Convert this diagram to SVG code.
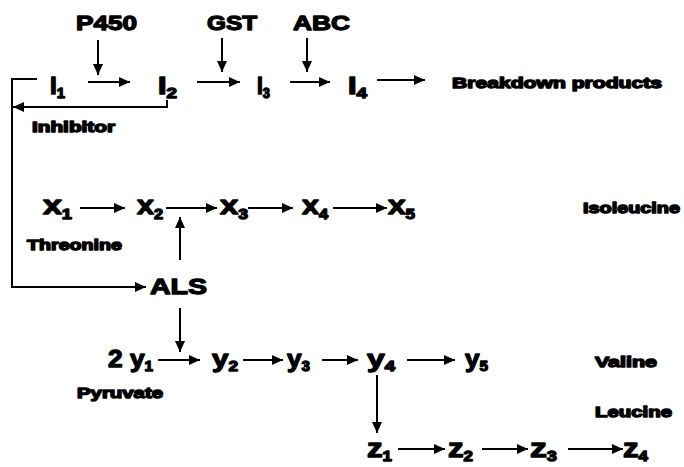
<svg xmlns="http://www.w3.org/2000/svg" width="684" height="467" viewBox="0 0 684 467">
<style>
text{font-family:"Liberation Sans",Arial,sans-serif;font-weight:bold;fill:#000;stroke:#000;stroke-width:1.3;stroke-linejoin:round;}
.big{font-size:26px;}
.mid{font-size:21px;}
.lab{font-size:15px;stroke-width:1.4;}
.sub{font-size:14px;}
.c{fill:none;stroke:#000;stroke-width:2;}
</style>
<defs>
<marker id="ah" markerUnits="userSpaceOnUse" markerWidth="12" markerHeight="10" refX="11" refY="5" orient="auto">
<path d="M0,0 L11,5 L0,10 Z" fill="#000"/>
</marker>
</defs>
<rect width="684" height="467" fill="#fff"/>
<g id="connectors">
<line class="c" x1="88" y1="82" x2="130" y2="82" marker-end="url(#ah)"/>
<line class="c" x1="197" y1="82" x2="240" y2="82" marker-end="url(#ah)"/>
<line class="c" x1="290" y1="82" x2="330" y2="82" marker-end="url(#ah)"/>
<line class="c" x1="377" y1="80" x2="425" y2="80" marker-end="url(#ah)"/>
<line class="c" x1="98" y1="40" x2="98" y2="75" marker-end="url(#ah)"/>
<line class="c" x1="222" y1="38" x2="222" y2="72" marker-end="url(#ah)"/>
<line class="c" x1="307" y1="38" x2="307" y2="72" marker-end="url(#ah)"/>
<polyline class="c" points="37,79 12,79 12,287 146,287" marker-end="url(#ah)"/>
<polyline class="c" points="167,100 167,107 13,107" marker-end="url(#ah)"/>
<line class="c" x1="80" y1="208" x2="125" y2="208" marker-end="url(#ah)"/>
<line class="c" x1="166" y1="208" x2="217" y2="208" marker-end="url(#ah)"/>
<line class="c" x1="248" y1="208" x2="293" y2="208" marker-end="url(#ah)"/>
<line class="c" x1="333" y1="208" x2="387" y2="208" marker-end="url(#ah)"/>
<line class="c" x1="180" y1="260" x2="180" y2="217" marker-end="url(#ah)"/>
<line class="c" x1="180" y1="308" x2="180" y2="352" marker-end="url(#ah)"/>
<line class="c" x1="158" y1="360" x2="200" y2="360" marker-end="url(#ah)"/>
<line class="c" x1="243" y1="360" x2="283" y2="360" marker-end="url(#ah)"/>
<line class="c" x1="322" y1="360" x2="358" y2="360" marker-end="url(#ah)"/>
<line class="c" x1="407" y1="360" x2="455" y2="360" marker-end="url(#ah)"/>
<line class="c" x1="377" y1="375" x2="377" y2="433" marker-end="url(#ah)"/>
<line class="c" x1="398" y1="449" x2="445" y2="449" marker-end="url(#ah)"/>
<line class="c" x1="482" y1="449" x2="528" y2="449" marker-end="url(#ah)"/>
<line class="c" x1="568" y1="449" x2="623" y2="449" marker-end="url(#ah)"/>
</g>
<g id="P450"><text class="mid" x="76" y="30" textLength="61" lengthAdjust="spacingAndGlyphs">P450</text></g>
<g id="GST"><text class="mid" x="207" y="30" textLength="50" lengthAdjust="spacingAndGlyphs">GST</text></g>
<g id="ABC"><text class="mid" x="293" y="30" textLength="57" lengthAdjust="spacingAndGlyphs">ABC</text></g>
<g id="I1"><text class="mid" x="50" y="94" textLength="15" lengthAdjust="spacingAndGlyphs" style="font-size:23px">I<tspan class="sub" dy="4">1</tspan></text></g>
<g id="I2"><text class="mid" x="158" y="94" textLength="19" lengthAdjust="spacingAndGlyphs" style="font-size:23px">I<tspan class="sub" dy="4">2</tspan></text></g>
<g id="I3"><text class="mid" x="257" y="94" textLength="13" lengthAdjust="spacingAndGlyphs" style="font-size:23px">I<tspan class="sub" dy="4">3</tspan></text></g>
<g id="I4"><text class="mid" x="348" y="94" textLength="19" lengthAdjust="spacingAndGlyphs" style="font-size:23px">I<tspan class="sub" dy="4">4</tspan></text></g>
<g id="breakdown"><text class="lab" x="452" y="88" textLength="210" lengthAdjust="spacingAndGlyphs">Breakdown products</text></g>
<g id="inhibitor"><text class="lab" x="32" y="132" textLength="83" lengthAdjust="spacingAndGlyphs">Inhibitor</text></g>
<g id="x1"><text class="big" x="43" y="214" textLength="29" lengthAdjust="spacingAndGlyphs">x<tspan class="sub" dy="5">1</tspan></text></g>
<g id="x2"><text class="big" x="137" y="214" textLength="26" lengthAdjust="spacingAndGlyphs">x<tspan class="sub" dy="5">2</tspan></text></g>
<g id="x3"><text class="big" x="220" y="214" textLength="28" lengthAdjust="spacingAndGlyphs">x<tspan class="sub" dy="5">3</tspan></text></g>
<g id="x4"><text class="big" x="302" y="214" textLength="26" lengthAdjust="spacingAndGlyphs">x<tspan class="sub" dy="5">4</tspan></text></g>
<g id="x5"><text class="big" x="388" y="214" textLength="27" lengthAdjust="spacingAndGlyphs">x<tspan class="sub" dy="5">5</tspan></text></g>
<g id="threonine"><text class="lab" x="27" y="250" textLength="95" lengthAdjust="spacingAndGlyphs">Threonine</text></g>
<g id="isoleucine"><text class="lab" x="583" y="213" textLength="97" lengthAdjust="spacingAndGlyphs">Isoleucine</text></g>
<g id="ALS"><text class="mid" x="150" y="294" textLength="57" lengthAdjust="spacingAndGlyphs" style="font-size:22px">ALS</text></g>
<g id="y1"><text class="mid" x="108" y="367" textLength="45" lengthAdjust="spacingAndGlyphs" style="font-size:24px">2 y<tspan class="sub" dy="4">1</tspan></text></g>
<g id="y2"><text class="mid" x="212" y="367" textLength="26" lengthAdjust="spacingAndGlyphs" style="font-size:24px">y<tspan class="sub" dy="4">2</tspan></text></g>
<g id="y3"><text class="mid" x="287" y="367" textLength="23" lengthAdjust="spacingAndGlyphs" style="font-size:24px">y<tspan class="sub" dy="4">3</tspan></text></g>
<g id="y4"><text class="mid" x="367" y="367" textLength="28" lengthAdjust="spacingAndGlyphs" style="font-size:24px">y<tspan class="sub" dy="4">4</tspan></text></g>
<g id="y5"><text class="mid" x="465" y="367" textLength="23" lengthAdjust="spacingAndGlyphs" style="font-size:24px">y<tspan class="sub" dy="4">5</tspan></text></g>
<g id="pyruvate"><text class="lab" x="77" y="398" textLength="86" lengthAdjust="spacingAndGlyphs">Pyruvate</text></g>
<g id="valine"><text class="lab" x="595" y="367" textLength="62" lengthAdjust="spacingAndGlyphs">Valine</text></g>
<g id="leucine"><text class="lab" x="595" y="417" textLength="77" lengthAdjust="spacingAndGlyphs">Leucine</text></g>
<g id="z1"><text class="big" x="367" y="457" textLength="25" lengthAdjust="spacingAndGlyphs">z<tspan class="sub" dy="4">1</tspan></text></g>
<g id="z2"><text class="big" x="448" y="457" textLength="25" lengthAdjust="spacingAndGlyphs">z<tspan class="sub" dy="4">2</tspan></text></g>
<g id="z3"><text class="big" x="530" y="457" textLength="27" lengthAdjust="spacingAndGlyphs">z<tspan class="sub" dy="4">3</tspan></text></g>
<g id="z4"><text class="big" x="623" y="457" textLength="25" lengthAdjust="spacingAndGlyphs">z<tspan class="sub" dy="4">4</tspan></text></g>
</svg>
